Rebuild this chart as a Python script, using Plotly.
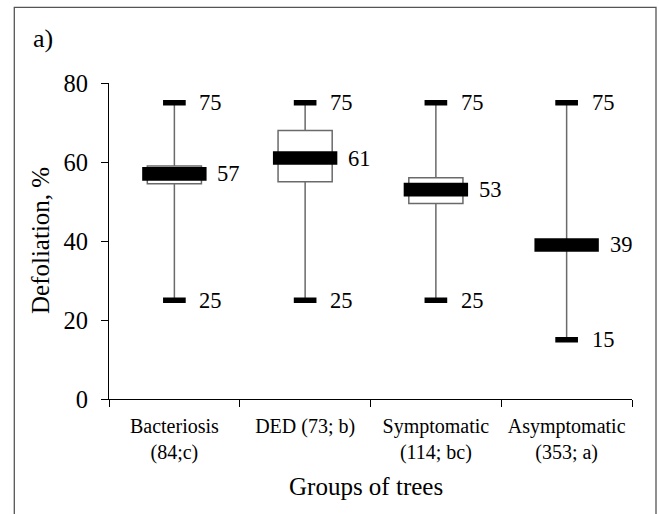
import plotly.graph_objects as go

# ---- data ----
categories = ["Bacteriosis<br>(84;c)", "DED (73; b)", "Symptomatic<br>(114; bc)", "Asymptomatic<br>(353; a)"]
whisker_low = [25, 25, 25, 15]
q1 = [54.5, 55, 49.5, 39]
median = [57, 61, 53, 39]
q3 = [59, 68, 56, 39]
whisker_high = [75, 75, 75, 75]
median_labels = ["57", "61", "53", "39"]
y_ticks = [0, 20, 40, 60, 80]

FONT = "Liberation Serif"
xs = list(range(len(categories)))

W, H = 659, 514
L, R, T, B = 109, 27, 83, 115
pw, ph = W - L - R, H - T - B


def px_x(p):
    return (p - L) / pw


def px_y(p):
    return ((H - p) - B) / ph


fig = go.Figure()

fig.add_trace(go.Box(
    x=xs, q1=q1, median=median, q3=q3,
    lowerfence=whisker_low, upperfence=whisker_high,
    width=0.414, whiskerwidth=0,
    fillcolor="white", line=dict(color="#6a6a6a", width=1.5),
    boxpoints=False, showlegend=False, hoverinfo="skip",
))

# whisker caps
fig.add_trace(go.Scatter(
    x=xs + xs, y=whisker_low + whisker_high, mode="markers",
    marker=dict(symbol="line-ew", size=16.2, line=dict(width=5.5, color="black"), color="black"),
    showlegend=False, hoverinfo="skip",
))
# median bars
fig.add_trace(go.Scatter(
    x=xs, y=median, mode="markers",
    marker=dict(symbol="line-ew", size=46, line=dict(width=13.6, color="black"), color="black"),
    showlegend=False, hoverinfo="skip",
))

annotations = []
for i in xs:
    for v in (whisker_low[i], whisker_high[i]):
        annotations.append(dict(x=i, y=v, xref="x", yref="y", text=str(v), showarrow=False,
                                xanchor="left", yanchor="middle", xshift=23,
                                font=dict(family=FONT, size=22.5, color="black")))
    annotations.append(dict(x=i, y=median[i], xref="x", yref="y", text=median_labels[i], showarrow=False,
                            xanchor="left", yanchor="middle", xshift=41,
                            font=dict(family=FONT, size=22.5, color="black")))

annotations.append(dict(x=px_x(42.5), y=px_y(39), xref="paper", yref="paper", text="a)", showarrow=False,
                        xanchor="center", yanchor="middle",
                        font=dict(family=FONT, size=26, color="black")))
annotations.append(dict(x=px_x(40), y=px_y(241), xref="paper", yref="paper", text="Defoliation, %",
                        showarrow=False, textangle=-90, xanchor="center", yanchor="middle",
                        font=dict(family=FONT, size=25, color="black")))
annotations.append(dict(x=px_x(366), y=px_y(486), xref="paper", yref="paper", text="Groups of trees",
                        showarrow=False, xanchor="center", yanchor="middle",
                        font=dict(family=FONT, size=25, color="black")))

frame = dict(type="rect", xref="paper", yref="paper",
             x0=px_x(14.3), x1=px_x(656), y0=px_y(530), y1=px_y(7.3),
             line=dict(color="#555555", width=1.3), fillcolor="rgba(0,0,0,0)", layer="below")

fig.update_layout(
    width=W, height=H,
    margin=dict(l=L, r=R, t=T, b=B, autoexpand=False),
    paper_bgcolor="white", plot_bgcolor="white",
    font=dict(family=FONT, color="black"),
    annotations=annotations,
    shapes=[frame],
    xaxis=dict(
        tickmode="array", tickvals=xs, ticktext=categories,
        range=[-0.5, 3.5], showgrid=False, zeroline=False, automargin=False,
        showline=True, linecolor="black", linewidth=1.3,
        ticks="", ticklabelstandoff=9, tickfont=dict(family=FONT, size=20, color="black"),
    ),
    yaxis=dict(
        range=[0, 80], tickvals=y_ticks, showgrid=False, zeroline=False, automargin=False,
        showline=True, linecolor="black", linewidth=1.3,
        ticks="outside", ticklen=7, tickcolor="black", tickwidth=1.3, ticklabelstandoff=8,
        tickfont=dict(family=FONT, size=24.5, color="black"),
    ),
    xaxis2=dict(
        overlaying="x", range=[-0.5, 3.5], tickvals=[-0.5, 0.5, 1.5, 2.5, 3.5], showticklabels=False,
        ticks="outside", ticklen=7, tickcolor="black", tickwidth=1.3, side="bottom",
        showgrid=False, zeroline=False, showline=False, anchor="y", automargin=False,
    ),
)
fig.add_trace(go.Scatter(x=[None], y=[None], xaxis="x2", showlegend=False, hoverinfo="skip"))

fig.write_html("out.html", config={"displayModeBar": False},
               post_script="document.body.style.margin='0';document.body.style.overflow='hidden';")
